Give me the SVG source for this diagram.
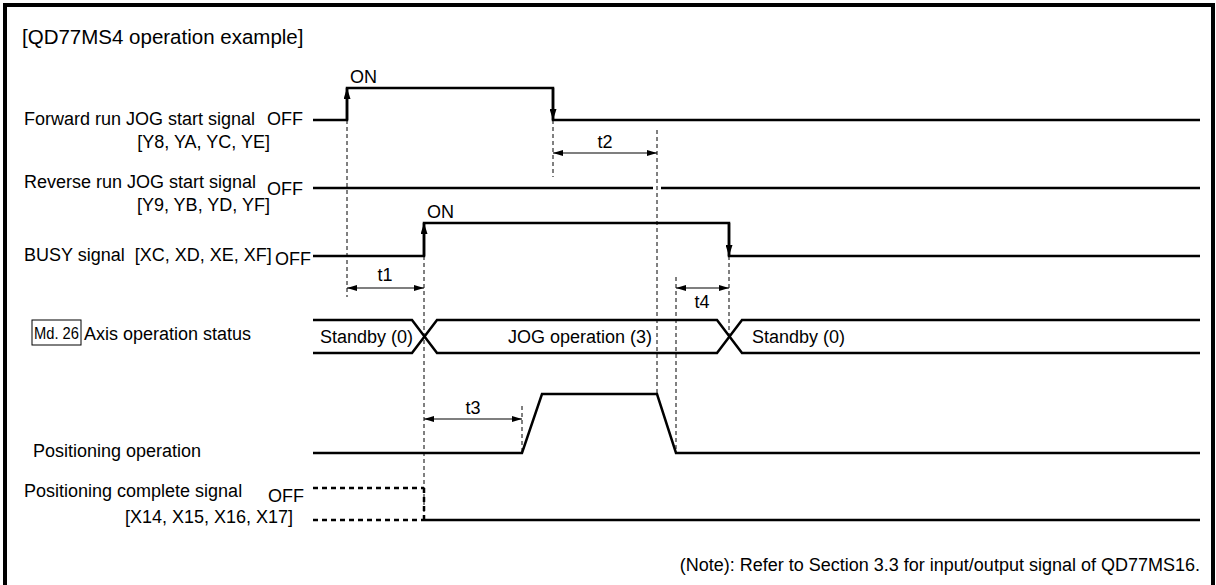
<svg xmlns="http://www.w3.org/2000/svg" width="1216" height="585" viewBox="0 0 1216 585">
<style>
text{font-family:"Liberation Sans",Arial,sans-serif;font-size:18px;fill:#000}
.title{font-size:20.5px}
.tag{font-size:16.5px}
.sig{fill:none;stroke:#000;stroke-width:2.5}
.edge{fill:none;stroke:#000;stroke-width:2.5;marker-end:url(#edgeHead)}
.guide{fill:none;stroke:#000;stroke-width:1;stroke-dasharray:4 3}
.dim{fill:none;stroke:#000;stroke-width:1.2;marker-start:url(#dimHead);marker-end:url(#dimHead)}
.dot{fill:none;stroke:#000;stroke-width:2.5;stroke-dasharray:5 4}
</style>
<defs>
<marker id="edgeHead" markerUnits="userSpaceOnUse" viewBox="0 0 11 7" refX="11" refY="3.5" markerWidth="11" markerHeight="7" orient="auto"><path d="M0,0 L11,3.5 L0,7 z" fill="#000"/></marker>
<marker id="dimHead" markerUnits="userSpaceOnUse" viewBox="0 0 10 6" refX="10" refY="3" markerWidth="10" markerHeight="6" orient="auto-start-reverse"><path d="M0,0 L10,3 L0,6 z" fill="#000"/></marker>
</defs>
<rect width="1216" height="585" fill="#fff"/>
<path d="M5,590 V5 H1213 V590" fill="none" stroke="#000" stroke-width="4"/>
<text class="title" x="22" y="44">[QD77MS4 operation example]</text>

<g id="forward-run">
<text x="24" y="125">Forward run JOG start signal</text>
<text x="267" y="125">OFF</text>
<text x="270" y="148" text-anchor="end">[Y8, YA, YC, YE]</text>
<text x="350" y="83">ON</text>
<polyline class="sig" points="313,120 347,120 347,88 553,88 553,120 1200,120"/>
<line class="edge" x1="347" y1="120" x2="347" y2="88"/>
<line class="edge" x1="553" y1="88" x2="553" y2="120"/>
</g>

<g id="reverse-run">
<text x="24" y="188">Reverse run JOG start signal</text>
<text x="267" y="195">OFF</text>
<text x="270" y="211" text-anchor="end">[Y9, YB, YD, YF]</text>
<line class="sig" x1="313" y1="188" x2="653" y2="188"/>
<line class="sig" x1="661" y1="188" x2="1200" y2="188"/>
</g>

<g id="busy">
<text x="24" y="261" xml:space="preserve">BUSY signal  [XC, XD, XE, XF]</text>
<text x="275" y="265">OFF</text>
<text x="427" y="218">ON</text>
<polyline class="sig" points="313,256 424,256 424,223 729,223 729,256 1200,256"/>
<line class="edge" x1="424" y1="256" x2="424" y2="223"/>
<line class="edge" x1="729" y1="223" x2="729" y2="256"/>
</g>

<g id="axis-status">
<rect x="32" y="320" width="49" height="25" fill="none" stroke="#000" stroke-width="1"/>
<text class="tag" x="34" y="339" textLength="45" lengthAdjust="spacingAndGlyphs">Md. 26</text>
<text x="84" y="340">Axis operation status</text>
<path class="sig" d="M313,320 H412 L437,353 H717 L742,320 H1200"/>
<path class="sig" d="M313,353 H412 L437,320 H717 L742,353 H1200"/>
<text x="320" y="343">Standby (0)</text>
<text x="508" y="343">JOG operation (3)</text>
<text x="752" y="343">Standby (0)</text>
</g>

<g id="positioning-operation">
<text x="33" y="457">Positioning operation</text>
<polyline class="sig" points="313,453 522,453 542,394 657,394 676,453 1200,453"/>
</g>

<g id="positioning-complete">
<text x="24" y="497">Positioning complete signal</text>
<text x="268" y="502">OFF</text>
<text x="293" y="523" text-anchor="end">[X14, X15, X16, X17]</text>
<line class="dot" x1="313" y1="488" x2="424" y2="488"/>
<line class="dot" x1="313" y1="520" x2="424" y2="520"/>
<line class="dot" x1="424" y1="488" x2="424" y2="520"/>
<line class="sig" x1="424" y1="520" x2="1200" y2="520"/>
</g>

<g id="connectors">
<line class="guide" x1="347" y1="120" x2="347" y2="297"/>
<line class="guide" x1="553" y1="120" x2="553" y2="177"/>
<line class="guide" x1="657" y1="130" x2="657" y2="394"/>
<line class="guide" x1="424" y1="256" x2="424" y2="520"/>
<line class="guide" x1="522" y1="406" x2="522" y2="453"/>
<line class="guide" x1="676" y1="277" x2="676" y2="453"/>
<line class="guide" x1="729" y1="256" x2="729" y2="337"/>
<line class="dim" x1="347" y1="288" x2="424" y2="288"/>
<line class="dim" x1="553" y1="153" x2="657" y2="153"/>
<line class="dim" x1="424" y1="419" x2="522" y2="419"/>
<line class="dim" x1="676" y1="288" x2="729" y2="288"/>
<text x="385" y="281" text-anchor="middle">t1</text>
<text x="605" y="148" text-anchor="middle">t2</text>
<text x="473" y="414" text-anchor="middle">t3</text>
<text x="702" y="308" text-anchor="middle">t4</text>
</g>

<text x="1200" y="571" text-anchor="end">(Note): Refer to Section 3.3 for input/output signal of QD77MS16.</text>
</svg>
